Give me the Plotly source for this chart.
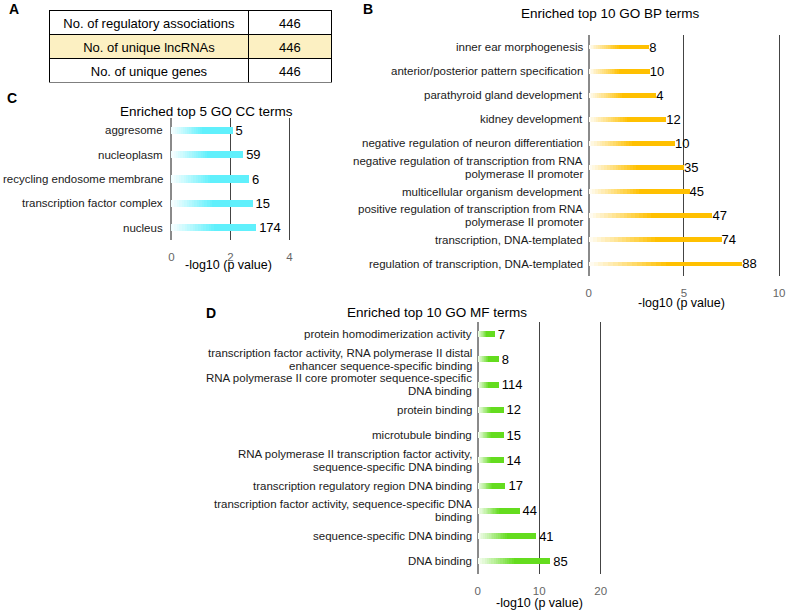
import plotly.graph_objects as go

W, H = 790, 613

# ---------------- data ----------------
table_labels = ["No. of regulatory associations", "No. of unique lncRNAs", "No. of unique genes"]
table_values = ["446", "446", "446"]

bp_terms = [
    "inner ear morphogenesis",
    "anterior/posterior pattern specification",
    "parathyroid gland development",
    "kidney development",
    "negative regulation of neuron differentiation",
    "negative regulation of transcription from RNA<br>polymerase II promoter",
    "multicellular organism development",
    "positive regulation of transcription from RNA<br>polymerase II promoter",
    "transcription, DNA-templated",
    "regulation of transcription, DNA-templated",
]
bp_values = [3.18, 3.2, 3.54, 4.07, 4.53, 5.0, 5.3, 6.5, 6.98, 8.07]
bp_counts = [8, 10, 4, 12, 10, 35, 45, 47, 74, 88]

cc_terms = [
    "aggresome",
    "nucleoplasm",
    "recycling endosome membrane",
    "transcription factor complex",
    "nucleus",
]
cc_values = [2.07, 2.43, 2.63, 2.75, 2.87]
cc_counts = [5, 59, 6, 15, 174]

mf_terms = [
    "protein homodimerization activity",
    "transcription factor activity, RNA polymerase II distal<br>enhancer sequence-specific binding",
    "RNA polymerase II core promoter sequence-specific<br>DNA binding",
    "protein binding",
    "microtubule binding",
    "RNA polymerase II transcription factor activity,<br>sequence-specific DNA binding",
    "transcription regulatory region DNA binding",
    "transcription factor activity, sequence-specific DNA<br>binding",
    "sequence-specific DNA binding",
    "DNA binding",
]
mf_values = [2.77, 3.4, 3.4, 4.2, 4.2, 4.2, 4.5, 6.8, 9.5, 11.8]
mf_counts = [7, 8, 114, 12, 15, 14, 17, 44, 41, 85]

FONT = "Liberation Sans, Arial, sans-serif"

fig = go.Figure()

def px_x(a, b):
    return [a / W, b / W]

def px_y(top, bottom):
    return [1 - bottom / H, 1 - top / H]

# ---------------- table A ----------------
fig.add_trace(go.Table(
    domain=dict(x=px_x(47, 332), y=px_y(10.5, 83)),
    columnwidth=[198, 83],
    header=dict(values=[table_labels[0], table_values[0]],
                fill_color="white", line_color="black", line_width=1,
                font=dict(family=FONT, size=13, color="black"),
                align="center", height=24),
    cells=dict(values=[table_labels[1:], table_values[1:]],
               fill_color=[["#FCF0C2", "white"], ["#FCF0C2", "white"]],
               line_color="black", line_width=1,
               font=dict(family=FONT, size=13, color="black"),
               align="center", height=24),
))

def blend(c, t):
    r, g, b = c
    lo = 0.06
    tt = lo + (1 - lo) * t
    return "rgb(%d,%d,%d)" % (round(255 + (r - 255) * tt), round(255 + (g - 255) * tt), round(255 + (b - 255) * tt))

def add_panel(terms, values, counts, color, xa, width, label_gap, K=16, frac=0.5):
    xref = "x" if xa == 1 else "x%d" % xa
    yref = "y" if xa == 1 else "y%d" % xa
    fig.add_trace(go.Bar(
        y=terms, x=values, orientation="h", width=width,
        marker=dict(color=blend(color, 1), line=dict(width=0)),
        text=[str(c) for c in counts], textposition="outside", constraintext="none",
        textfont=dict(family=FONT, size=13, color="black"),
        cliponaxis=False, xaxis=xref, yaxis=yref, showlegend=False, hoverinfo="skip",
    ))
    for k in range(K):
        f = frac * (K - k) / K
        t = (K - k - 1) / K
        fig.add_trace(go.Bar(
            y=terms, x=[v * f for v in values], orientation="h", width=width,
            marker=dict(color=blend(color, t), line=dict(width=0)),
            xaxis=xref, yaxis=yref, showlegend=False, hoverinfo="skip",
        ))
    # category labels, one annotation per text line (tight line spacing)
    for term in terms:
        lines = term.split("<br>")
        n = len(lines)
        for i, line in enumerate(lines):
            fig.add_annotation(
                text=line, x=0, y=term, xref=xref, yref=yref,
                xanchor="right", yanchor="middle", xshift=-label_gap,
                yshift=((n - 1) / 2 - i) * 13, showarrow=False,
                font=dict(family=FONT, size=11.5, color="#1a1a1a"),
            )

add_panel(bp_terms, bp_values, bp_counts, (255, 192, 0), 1, 0.2, 4)
add_panel(cc_terms, cc_values, cc_counts, (96, 240, 252), 2, 0.3, 6)
add_panel(mf_terms, mf_values, mf_counts, (100, 220, 30), 3, 0.24, 4)

def xaxis_cfg(dom, rng, dtick, anchor):
    return dict(domain=dom, range=rng, dtick=dtick, tick0=0, anchor=anchor,
                showgrid=True, gridcolor="#444", gridwidth=1,
                zeroline=True, zerolinecolor="#8a8a8a", zerolinewidth=2,
                showline=False, ticks="", fixedrange=True,
                tickfont=dict(family=FONT, size=11.5, color="#666"),
                ticklabelstandoff=8)

def yaxis_cfg(dom, terms, anchor):
    n = len(terms)
    return dict(domain=dom, type="category", categoryorder="array", categoryarray=terms,
                range=[n - 0.5, -0.5], showgrid=False, zeroline=False, showline=False,
                showticklabels=False, ticks="", anchor=anchor, fixedrange=True)

fig.update_layout(
    width=W, height=H,
    margin=dict(l=0, r=0, t=0, b=0),
    paper_bgcolor="white", plot_bgcolor="white",
    barmode="overlay",
    bargap=0,
    xaxis=xaxis_cfg(px_x(591, 591 + 19.2 * 10.2), [0, 10.2], 5, "y"),
    yaxis=yaxis_cfg(px_y(35, 276), bp_terms, "x"),
    xaxis2=xaxis_cfg(px_x(170, 170 + 29.75 * 4.1), [0, 4.1], 2, "y2"),
    yaxis2=yaxis_cfg(px_y(118, 240), cc_terms, "x2"),
    xaxis3=xaxis_cfg(px_x(479, 479 + 6.2 * 20.4), [0, 20.4], 10, "y3"),
    yaxis3=yaxis_cfg(px_y(321.5, 574), mf_terms, "x3"),
    font=dict(family=FONT),
)

def ann(text, x, y, size, bold=False, color="black", xanchor="center"):
    fig.add_annotation(text=("<b>%s</b>" % text) if bold else text,
                       x=x / W, y=1 - y / H, xref="paper", yref="paper",
                       xanchor=xanchor, yanchor="middle", showarrow=False,
                       font=dict(family=FONT, size=size, color=color))

ann("A", 4, 9, 14, bold=True, xanchor="left")
ann("B", 361, 9, 14, bold=True, xanchor="left")
ann("C", 2, 98, 14, bold=True, xanchor="left")
ann("D", 203, 313, 14, bold=True, xanchor="left")

ann("Enriched top 10 GO BP terms", 613, 13, 13.5)
ann("Enriched top 5 GO CC terms", 205, 111, 13.5)
ann("Enriched top 10 GO MF terms", 438, 312, 13.5)

ann("-log10 (p value)", 685, 303, 12.5)
ann("-log10 (p value)", 228, 265, 12.5)
ann("-log10 (p value)", 541, 603, 12.5)

fig.write_html("out.html",
               config={"displayModeBar": False, "staticPlot": True},
               post_script="document.body.style.margin='0';document.body.style.overflow='hidden';")
